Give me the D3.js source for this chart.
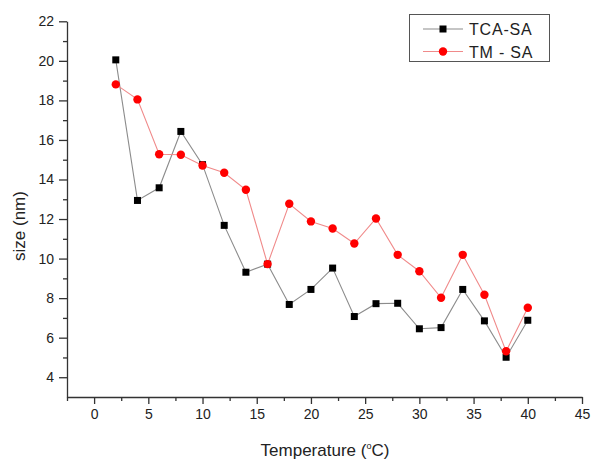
<!DOCTYPE html>
<html>
<head>
<meta charset="utf-8">
<script src="https://cdn.jsdelivr.net/npm/d3@7"></script>
<style>
  body { margin: 0; background: #fff; }
  text { font-family: "Liberation Sans", Arial, sans-serif; fill: #222; }
</style>
</head>
<body>
<svg id="chart" width="592" height="459"></svg>
<script>
const temps = [2, 4, 6, 8, 10, 12, 14, 16, 18, 20, 22, 24, 26, 28, 30, 32, 34, 36, 38, 40];
const tcaSA = [20.05, 12.94, 13.58, 16.43, 14.75, 11.68, 9.31, 9.72, 7.68, 8.44, 9.52, 7.07, 7.72, 7.74, 6.45, 6.51, 8.44, 6.85, 5.01, 6.88];
const tmSA = [18.81, 18.05, 15.28, 15.25, 14.71, 14.34, 13.48, 9.72, 12.77, 11.88, 11.52, 10.76, 12.03, 10.19, 9.36, 8.02, 10.19, 8.17, 5.31, 7.51];
const xTicks = [0, 5, 10, 15, 20, 25, 30, 35, 40, 45];
const yTicks = [4, 6, 8, 10, 12, 14, 16, 18, 20, 22];
const seriesNames = ["TCA-SA", "TM - SA"];

const svg = d3.select("#chart");
const x = d3.scaleLinear().domain([-2.5, 45]).range([67, 582]);
const y = d3.scaleLinear().domain([3, 22]).range([397, 21.3]);

// minor ticks first, then major
const xAxisG = svg.append("g").attr("transform", `translate(0,${y(3)})`);
xAxisG.call(d3.axisBottom(x).tickValues(d3.range(-2.5, 45, 5)).tickSize(4).tickFormat(""));
xAxisG.call((g) => g.select(".domain").remove());
svg.append("g").attr("transform", `translate(0,${y(3)})`)
  .call(d3.axisBottom(x).tickValues(xTicks).tickSize(7).tickSizeOuter(0).tickPadding(5));

const yAxisG = svg.append("g").attr("transform", `translate(${x(-2.5)},0)`);
yAxisG.call(d3.axisLeft(y).tickValues(d3.range(5, 22, 2)).tickSize(4).tickFormat(""));
yAxisG.call((g) => g.select(".domain").remove());
svg.append("g").attr("transform", `translate(${x(-2.5)},0)`)
  .call(d3.axisLeft(y).tickValues(yTicks).tickSize(8).tickSizeOuter(0).tickPadding(5));

svg.selectAll(".domain, .tick line").attr("stroke", "#333").attr("stroke-width", 1.3);
svg.selectAll(".tick text").attr("font-size", 14).attr("fill", "#222")
  .style("font-family", "'Liberation Sans', Arial, sans-serif");

const line = d3.line().x((d) => x(d[0])).y((d) => y(d[1]));
const tcaData = temps.map((t, i) => [t, tcaSA[i]]);
const tmData = temps.map((t, i) => [t, tmSA[i]]);

svg.append("path").datum(tcaData).attr("d", line)
  .attr("fill", "none").attr("stroke", "#8c8c8c").attr("stroke-width", 1.1);
svg.append("path").datum(tmData).attr("d", line)
  .attr("fill", "none").attr("stroke", "#f08a8a").attr("stroke-width", 1.1);

svg.selectAll(".sq").data(tcaData).enter().append("rect")
  .attr("x", (d) => x(d[0]) - 3.5).attr("y", (d) => y(d[1]) - 3.5)
  .attr("width", 7).attr("height", 7).attr("fill", "#000");
svg.selectAll(".dot").data(tmData).enter().append("circle")
  .attr("cx", (d) => x(d[0])).attr("cy", (d) => y(d[1]))
  .attr("r", 4.2).attr("fill", "#ff0000");

// axis titles
svg.append("text").attr("x", 325).attr("y", 456).attr("text-anchor", "middle")
  .attr("font-size", 17)
  .html('Temperature (<tspan dy="-7" font-size="9">o</tspan><tspan dy="7">C)</tspan>');
svg.append("text").attr("transform", "translate(25,226) rotate(-90)")
  .attr("text-anchor", "middle").attr("font-size", 17).text("size (nm)");

// legend
const lg = svg.append("g");
lg.append("rect").attr("x", 409.5).attr("y", 14.5).attr("width", 140).attr("height", 47)
  .attr("fill", "#fff").attr("stroke", "#555").attr("stroke-width", 1);
const rows = [29, 51.5];
lg.append("line").attr("x1", 423).attr("x2", 463).attr("y1", rows[0]).attr("y2", rows[0])
  .attr("stroke", "#8c8c8c").attr("stroke-width", 1.1);
lg.append("rect").attr("x", 443 - 3.5).attr("y", rows[0] - 3.5).attr("width", 7).attr("height", 7).attr("fill", "#000");
lg.append("line").attr("x1", 423).attr("x2", 463).attr("y1", rows[1]).attr("y2", rows[1])
  .attr("stroke", "#f08a8a").attr("stroke-width", 1.1);
lg.append("circle").attr("cx", 443).attr("cy", rows[1]).attr("r", 4.2).attr("fill", "#ff0000");
lg.selectAll(".lt").data(seriesNames).enter().append("text")
  .attr("x", 469).attr("y", (d, i) => rows[i] + 6)
  .attr("font-size", 16).attr("letter-spacing", 0.8).text((d) => d);
</script>
</body>
</html>
